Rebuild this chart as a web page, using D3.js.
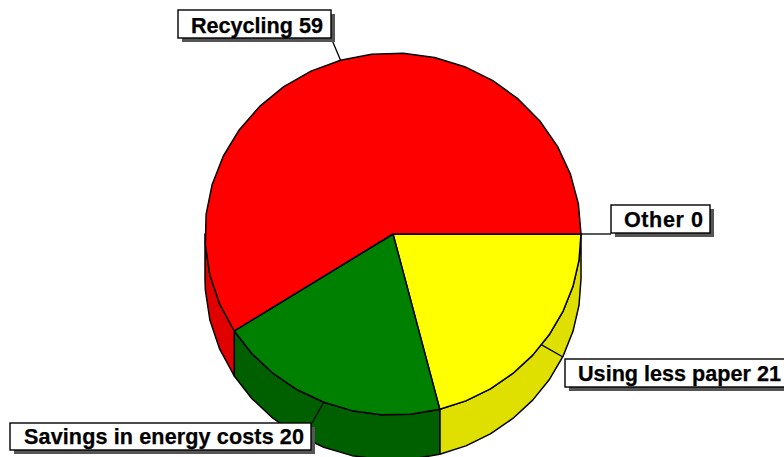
<!DOCTYPE html>
<html><head><meta charset="utf-8">
<script src="https://cdnjs.cloudflare.com/ajax/libs/d3/7.8.5/d3.min.js"></script>
<style>html,body{margin:0;padding:0;background:#fff;overflow:hidden}svg{display:block}
text{font-family:"Liberation Sans",Arial,sans-serif;font-weight:bold;font-size:21.6px;fill:#000;stroke:#000;stroke-width:.25px}</style>
</head><body><script>
const categories = ["Using less paper","Savings in energy costs","Recycling","Other"];
const values = [21,20,59,0];
const topColors = ["#ffff00","#008000","#ff0000","#ff00ff"];
const sideColors = ["#e0e000","#006000","#e00000","#e000e0"];
const facets = [9,8,22,1];
const labelBoxes = [[565,359,225,28,578,203,380.7],[10,423,301,27,24,280,444.2],[178,10,153,28,191,132,32.6],[611,205,99,28,624,79,226.7]];
const leaderEnds = [[563,357],[312,423],[332,40],[611,234]];

const W=784,H=457,depth=45;
const svg=d3.select("body").append("svg").attr("width",W).attr("height",H);
const xS=d3.scaleLinear().domain([-1,1]).range([205,581]);
const yS=d3.scaleLinear().domain([-1,1]).range([53,415]);
const px=a=>xS(Math.sin(a)), py=a=>yS(-Math.cos(a));
const pie=d3.pie().sort(null).startAngle(Math.PI/2).endAngle(Math.PI*2.5);
const arcs=pie(values);
const line=d3.line().x(d=>d[0]).y(d=>d[1]);
const angles=(d,i)=>d3.range(facets[i]+1).map(k=>d.startAngle+(d.endAngle-d.startAngle)*k/facets[i]);
const E=Math.PI*1.5;

arcs.forEach((d,i)=>{
  if(d.startAngle>=E||d.endAngle<=d.startAngle)return;
  let as=angles(d,i).filter(a=>a<=E);
  if(d.endAngle>E)as.push(E);
  const t=as.map(a=>[px(a),py(a)]);
  const b=as.map(a=>[px(a),py(a)+depth]).reverse();
  svg.append("path").attr("d",line(t.concat(b))+"Z").attr("fill",sideColors[i]).attr("stroke","#000").attr("stroke-width",1.5).attr("stroke-linejoin","round");
});
arcs.forEach((d,i)=>{
  if(d.endAngle<=d.startAngle)return;
  const p=[[xS(0),yS(0)]].concat(angles(d,i).map(a=>[px(a),py(a)]));
  svg.append("path").attr("d",line(p)+"Z").attr("fill",topColors[i]).attr("stroke","#000").attr("stroke-width",1.5).attr("stroke-linejoin","round");
});
arcs.forEach((d,i)=>{
  const m=(d.startAngle+d.endAngle)/2, e=leaderEnds[i];
  svg.append("line").attr("x1",px(m)).attr("y1",py(m)).attr("x2",e[0]).attr("y2",e[1]).attr("stroke","#000").attr("stroke-width",1.3);
});
arcs.forEach((d,i)=>{
  const b=labelBoxes[i];
  svg.append("rect").attr("x",b[0]+4).attr("y",b[1]+4).attr("width",b[2]).attr("height",b[3]).attr("fill","#555");
  svg.append("rect").attr("x",b[0]).attr("y",b[1]).attr("width",b[2]).attr("height",b[3]).attr("fill","#fff").attr("stroke","#000").attr("stroke-width",1.4);
  svg.append("text").attr("x",b[4]).attr("y",b[6]).attr("textLength",b[5]).attr("lengthAdjust","spacing").text(categories[i]+" "+values[i]);
});
</script></body></html>
